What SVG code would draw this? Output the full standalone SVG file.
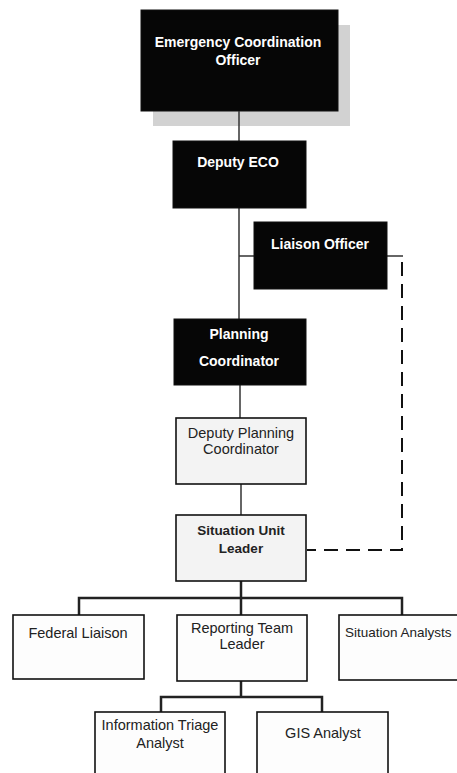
<svg xmlns="http://www.w3.org/2000/svg" width="457" height="773" viewBox="0 0 457 773">
<style>
.dark{fill:#060606;stroke:#111;stroke-width:1}
.light{fill:#f3f3f3;stroke:#111;stroke-width:1.6}
.white{fill:#fdfdfd;stroke:#111;stroke-width:1.6}
.sh{fill:#d2d2d2}
.tw{font-family:"Liberation Sans",Arial,sans-serif;font-size:14px;font-weight:bold;fill:#fff;text-anchor:middle}
.tb{font-family:"Liberation Sans",Arial,sans-serif;font-size:13.5px;font-weight:bold;fill:#222;text-anchor:middle}
.tn{font-family:"Liberation Sans",Arial,sans-serif;font-size:14.5px;fill:#222;text-anchor:middle}
.ln{fill:none;stroke:#333;stroke-width:1.5}
.bus{fill:none;stroke:#222;stroke-width:2.5}
.dash{fill:none;stroke:#111;stroke-width:2;stroke-dasharray:14 8}
</style>
<rect width="457" height="773" fill="#fff"/>
<g id="connectors">
<line class="ln" x1="239" y1="111" x2="239" y2="319"/>
<line class="ln" x1="239" y1="256" x2="254" y2="256"/>
<line class="ln" x1="387" y1="256" x2="403" y2="256"/>
<polyline class="dash" points="402,262 402,550 307,550"/>
<line class="ln" x1="240" y1="385" x2="240" y2="418"/>
<line class="ln" x1="241" y1="484" x2="241" y2="515"/>
<line class="bus" x1="241" y1="581" x2="241" y2="598"/>
<polyline class="bus" points="79,615 79,598 402,598 402,615"/>
<line class="bus" x1="241" y1="598" x2="241" y2="615"/>
<line class="bus" x1="241" y1="681" x2="241" y2="697"/>
<polyline class="bus" points="161,712 161,697 322,697 322,712"/>
</g>
<g id="eco">
<rect class="sh" x="153" y="25" width="197" height="101"/>
<rect class="dark" x="141" y="10" width="197" height="101"/>
<line class="ln" x1="239" y1="111" x2="239" y2="126"/>
<text class="tw" x="238" y="47">Emergency Coordination</text>
<text class="tw" x="238" y="65">Officer</text>
</g>
<g id="deputy-eco">
<rect class="dark" x="173" y="141" width="133" height="67"/>
<text class="tw" x="238" y="167">Deputy ECO</text>
</g>
<g id="liaison-officer">
<rect class="dark" x="254" y="222" width="133" height="67"/>
<text class="tw" x="320" y="249">Liaison Officer</text>
</g>
<g id="planning-coordinator">
<rect class="dark" x="174" y="319" width="132" height="66"/>
<text class="tw" x="239" y="339">Planning</text>
<text class="tw" x="239" y="366">Coordinator</text>
</g>
<g id="deputy-planning-coordinator">
<rect class="light" x="176" y="418" width="130" height="66"/>
<text class="tn" x="241" y="438">Deputy Planning</text>
<text class="tn" x="241" y="454">Coordinator</text>
</g>
<g id="situation-unit-leader">
<rect class="light" x="176" y="515" width="130" height="66"/>
<text class="tb" x="241" y="535">Situation Unit</text>
<text class="tb" x="241" y="553">Leader</text>
</g>
<g id="federal-liaison">
<rect class="white" x="13" y="615" width="131" height="64"/>
<text class="tn" x="78" y="638">Federal Liaison</text>
</g>
<g id="reporting-team-leader">
<rect class="white" x="177" y="615" width="130" height="66"/>
<text class="tn" x="242" y="633">Reporting Team</text>
<text class="tn" x="242" y="649">Leader</text>
</g>
<g id="situation-analysts">
<rect class="white" x="339" y="615" width="130" height="65"/>
<text class="tn" x="345" y="637" style="text-anchor:start;font-size:13.5px">Situation Analysts</text>
</g>
<g id="information-triage-analyst">
<rect class="white" x="95" y="712" width="130" height="70"/>
<text class="tn" x="160" y="730">Information Triage</text>
<text class="tn" x="160" y="748">Analyst</text>
</g>
<g id="gis-analyst">
<rect class="white" x="257" y="712" width="131" height="70"/>
<text class="tn" x="323" y="738">GIS Analyst</text>
</g>
</svg>
